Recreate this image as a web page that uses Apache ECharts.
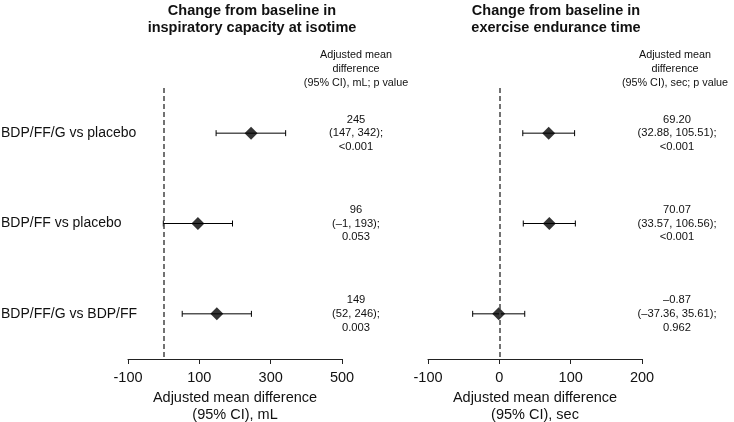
<!DOCTYPE html>
<html><head><meta charset="utf-8">
<script src="https://cdn.jsdelivr.net/npm/echarts@6/dist/echarts.min.js"></script>
<style>html,body{margin:0;padding:0;background:#fff}#c{width:734px;height:422px}</style>
</head><body><div id="c"></div>
<script>
const rows = ['BDP/FF/G vs placebo', 'BDP/FF vs placebo', 'BDP/FF/G vs BDP/FF'];
// Inspiratory capacity at isotime (mL)
const icEst = [245, 96, 149];
const icLow = [147, -1, 52];
const icHigh = [342, 193, 246];
const icText = ['245\n(147, 342);\n<0.001', '96\n(\u20131, 193);\n0.053', '149\n(52, 246);\n0.003'];
// Exercise endurance time (sec)
const eeEst = [69.20, 70.07, -0.87];
const eeLow = [32.88, 33.57, -37.36];
const eeHigh = [105.51, 106.56, 35.61];
const eeText = ['69.20\n(32.88, 105.51);\n<0.001', '70.07\n(33.57, 106.56);\n<0.001', '\u20130.87\n(\u201337.36, 35.61);\n0.962'];
const icTicks = [-100, 500, 200];
const eeTicks = [-100, 200, 100];

const FONT = '"Liberation Sans", Arial, sans-serif';
const chart = echarts.init(document.getElementById('c'));

function errRender(params, api) {
  const y = api.value(2);
  const p1 = api.coord([api.value(0), y]);
  const p2 = api.coord([api.value(1), y]);
  const h = 3;
  const st = {stroke: '#000', lineWidth: 1};
  return {type: 'group', children: [
    {type: 'line', shape: {x1: p1[0], y1: p1[1], x2: p2[0], y2: p2[1]}, style: st},
    {type: 'line', shape: {x1: p1[0], y1: p1[1] - h, x2: p1[0], y2: p1[1] + h}, style: st},
    {type: 'line', shape: {x1: p2[0], y1: p2[1] - h, x2: p2[0], y2: p2[1] + h}, style: st}
  ]};
}

function xAx(idx, t, name) {
  return {
    type: 'value', gridIndex: idx, min: t[0], max: t[1], interval: t[2],
    splitLine: {show: false},
    axisLine: {show: true, onZero: false, lineStyle: {color: '#222', width: 1}},
    axisTick: {show: true, length: 5, lineStyle: {color: '#222'}},
    axisLabel: {color: '#111', fontSize: 14.5, fontFamily: FONT, margin: 11, formatter: v => String(v)},
    name: name, nameLocation: 'middle', nameGap: 29,
    nameTextStyle: {color: '#111', fontSize: 14.5, fontFamily: FONT, lineHeight: 17, verticalAlign: 'top'}
  };
}

const dashed = {
  silent: true, symbol: 'none', label: {show: false},
  lineStyle: {color: '#444', type: [5, 3], width: 1.5},
  data: [{xAxis: 0}]
};

const titleStyle = {fontSize: 14.5, fontWeight: 'bold', fontFamily: FONT, fill: '#111', lineHeight: 17, textAlign: 'center', textVerticalAlign: 'top'};
const headStyle = {fontSize: 10.8, fontFamily: FONT, fill: '#111', lineHeight: 14, textAlign: 'center', textVerticalAlign: 'top'};

chart.setOption({
  animation: false,
  graphic: [
    {type: 'text', x: 252, y: 2, style: Object.assign({text: 'Change from baseline in\ninspiratory capacity at isotime'}, titleStyle)},
    {type: 'text', x: 556, y: 2, style: Object.assign({text: 'Change from baseline in\nexercise endurance time'}, titleStyle)},
    {type: 'text', x: 356, y: 48, style: Object.assign({text: 'Adjusted mean\ndifference\n(95% CI), mL; p value'}, headStyle)},
    {type: 'text', x: 675, y: 48, style: Object.assign({text: 'Adjusted mean\ndifference\n(95% CI), sec; p value'}, headStyle)}
  ],
  grid: [
    {left: 128, width: 214, top: 88, height: 271, outerBoundsMode: 'none', containLabel: false},
    {left: 428, width: 214, top: 88, height: 271, outerBoundsMode: 'none', containLabel: false}
  ],
  xAxis: [
    xAx(0, icTicks, 'Adjusted mean difference\n(95% CI), mL'),
    xAx(1, eeTicks, 'Adjusted mean difference\n(95% CI), sec')
  ],
  yAxis: [
    {type: 'category', gridIndex: 0, data: rows, inverse: true, position: 'left',
     axisLine: {show: false}, axisTick: {show: false},
     axisLabel: {align: 'left', margin: 127, fontSize: 14, color: '#111', fontFamily: FONT}},
    {type: 'category', gridIndex: 0, data: icText, inverse: true, position: 'right',
     axisLine: {show: false}, axisTick: {show: false},
     axisLabel: {align: 'center', margin: 14, fontSize: 11.2, lineHeight: 13.7, color: '#111', fontFamily: FONT}},
    {type: 'category', gridIndex: 1, data: rows, inverse: true, position: 'left',
     axisLine: {show: false}, axisTick: {show: false}, axisLabel: {show: false}},
    {type: 'category', gridIndex: 1, data: eeText, inverse: true, position: 'right',
     axisLine: {show: false}, axisTick: {show: false},
     axisLabel: {align: 'center', margin: 35, fontSize: 11.2, lineHeight: 13.7, color: '#111', fontFamily: FONT}}
  ],
  series: [
    {type: 'custom', xAxisIndex: 0, yAxisIndex: 0, renderItem: errRender,
     encode: {x: [0, 1], y: 2}, data: icLow.map((l, i) => [l, icHigh[i], i]), z: 2},
    {type: 'scatter', xAxisIndex: 0, yAxisIndex: 0, symbol: 'diamond', symbolSize: [13, 13],
     itemStyle: {color: '#000'}, data: icEst.map((v, i) => [v, i]), z: 3, markLine: dashed},
    {type: 'custom', xAxisIndex: 1, yAxisIndex: 2, renderItem: errRender,
     encode: {x: [0, 1], y: 2}, data: eeLow.map((l, i) => [l, eeHigh[i], i]), z: 2},
    {type: 'scatter', xAxisIndex: 1, yAxisIndex: 2, symbol: 'diamond', symbolSize: [13, 13],
     itemStyle: {color: '#000'}, data: eeEst.map((v, i) => [v, i]), z: 3, markLine: dashed}
  ]
});
</script></body></html>
